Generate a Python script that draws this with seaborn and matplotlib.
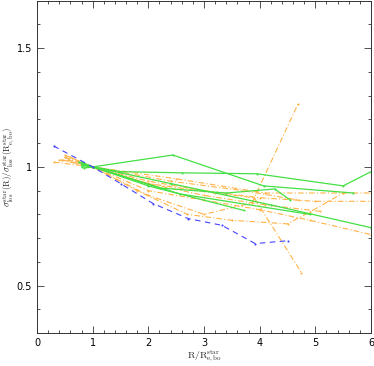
import matplotlib
matplotlib.use("Agg")
import matplotlib.pyplot as plt
from matplotlib.ticker import MultipleLocator, FormatStrFormatter
import pandas as pd
import seaborn as sns

# blue profile (dashed)
blue_x = [0.3, 1.0, 1.5, 2.09, 2.72, 3.32, 3.92, 4.51]
blue_y = [1.088, 1.0, 0.93, 0.845, 0.782, 0.754, 0.677, 0.689]

# green profiles (solid)
green_x = [
    [0.85, 1.0, 2.44, 4.07, 5.68],
    [0.8, 1.0, 1.5, 2.6, 3.95, 5.5, 6.0],
    [0.8, 1.0, 2.21, 3.4, 4.27, 4.54],
    [0.8, 1.0, 2.57, 4.9],
    [0.75, 1.0, 2.4, 4.2, 6.0],
    [0.8, 1.0, 2.0, 3.71],
]
green_y = [
    [0.995, 1.0, 1.05, 0.92, 0.89],
    [1.0, 1.0, 0.98, 0.975, 0.971, 0.92, 0.98],
    [1.02, 1.0, 0.911, 0.89, 0.907, 0.862],
    [1.01, 1.0, 0.886, 0.80],
    [1.02, 1.0, 0.93, 0.84, 0.744],
    [1.01, 1.0, 0.92, 0.817],
]

# orange profiles (dash-dot)
orange_x = [
    [0.5, 1.0, 2.0, 3.0, 3.86, 4.69],
    [0.4, 1.0, 2.0, 3.2, 3.9, 4.75],
    [0.45, 1.0, 1.8, 2.7, 3.5, 4.5, 4.9, 5.5, 6.0],
    [0.5, 1.0, 2.0, 3.0, 4.0, 5.0, 6.0],
    [0.5, 1.0, 2.0, 3.0, 4.0, 4.9, 6.0],
    [0.3, 1.0, 2.0, 3.0, 4.1, 5.08],
    [0.6, 1.0, 2.4, 3.7, 4.7],
    [0.55, 1.0, 2.5, 4.1, 5.5],
]
orange_y = [
    [1.04, 1.0, 0.88, 0.80, 0.848, 1.266],
    [1.03, 1.0, 0.93, 0.89, 0.87, 0.555],
    [1.03, 1.0, 0.90, 0.80, 0.775, 0.76, 0.81, 0.89, 0.89],
    [1.04, 1.0, 0.94, 0.90, 0.87, 0.855, 0.855],
    [1.05, 1.0, 0.90, 0.86, 0.82, 0.775, 0.715],
    [1.02, 1.0, 0.93, 0.88, 0.84, 0.813],
    [1.04, 1.0, 0.94, 0.90, 0.86],
    [1.03, 1.0, 0.95, 0.89, 0.89],
]

sns.set_theme(style="ticks")
plt.rcParams["font.family"] = ["DejaVu Sans"]
plt.rcParams["mathtext.fontset"] = "cm"

fig = plt.figure(figsize=(3.74, 3.66), dpi=100)
ax = fig.add_axes([0.099, 0.09, 0.893, 0.908])

orange = "#ffb347"
green = "#44e044"
blue = "#4444ff"

for xs, ys in zip(orange_x, orange_y):
    d = pd.DataFrame({"x": xs, "y": ys})
    sns.lineplot(data=d, x="x", y="y", ax=ax, sort=False, estimator=None,
                 color=orange, lw=0.8, linestyle=(0, (5, 2, 1, 2)),
                 marker="o", markersize=1.5, markeredgewidth=0)

for xs, ys in zip(green_x, green_y):
    d = pd.DataFrame({"x": xs, "y": ys})
    sns.lineplot(data=d, x="x", y="y", ax=ax, sort=False, estimator=None,
                 color=green, lw=0.9, marker="o", markersize=1.5,
                 markeredgewidth=0)

d = pd.DataFrame({"x": blue_x, "y": blue_y})
sns.lineplot(data=d, x="x", y="y", ax=ax, sort=False, estimator=None,
             color=blue, lw=0.8, linestyle=(0, (5, 4)),
             marker="o", markersize=1.5, markeredgewidth=0)

ax.set_xlim(0, 6)
ax.set_ylim(0.3, 1.7)
ax.xaxis.set_major_locator(MultipleLocator(1))
ax.xaxis.set_minor_locator(MultipleLocator(0.2))
ax.yaxis.set_major_locator(MultipleLocator(0.5))
ax.yaxis.set_minor_locator(MultipleLocator(0.1))
ax.xaxis.set_major_formatter(FormatStrFormatter("%g"))
ax.yaxis.set_major_formatter(FormatStrFormatter("%g"))
ax.tick_params(which="both", direction="in", top=True, right=True,
               labelsize=7, width=0.6, colors="#333333", labelcolor="black")
ax.tick_params(which="major", length=5)
ax.tick_params(which="minor", length=2.5)
for s in ax.spines.values():
    s.set_linewidth(0.7)
    s.set_color("#333333")

ax.set_xlabel(r"$\mathrm{R/R^{star}_{e,bo}}$", fontsize=7, labelpad=0)
ax.set_ylabel(r"$\sigma^{\rm star}_{\rm los}(\mathrm{R})/\sigma^{\rm star}_{\rm los}(\mathrm{R^{star}_{e,bo}})$",
              fontsize=6.5, labelpad=0)

fig.savefig("out.png", dpi=100)
